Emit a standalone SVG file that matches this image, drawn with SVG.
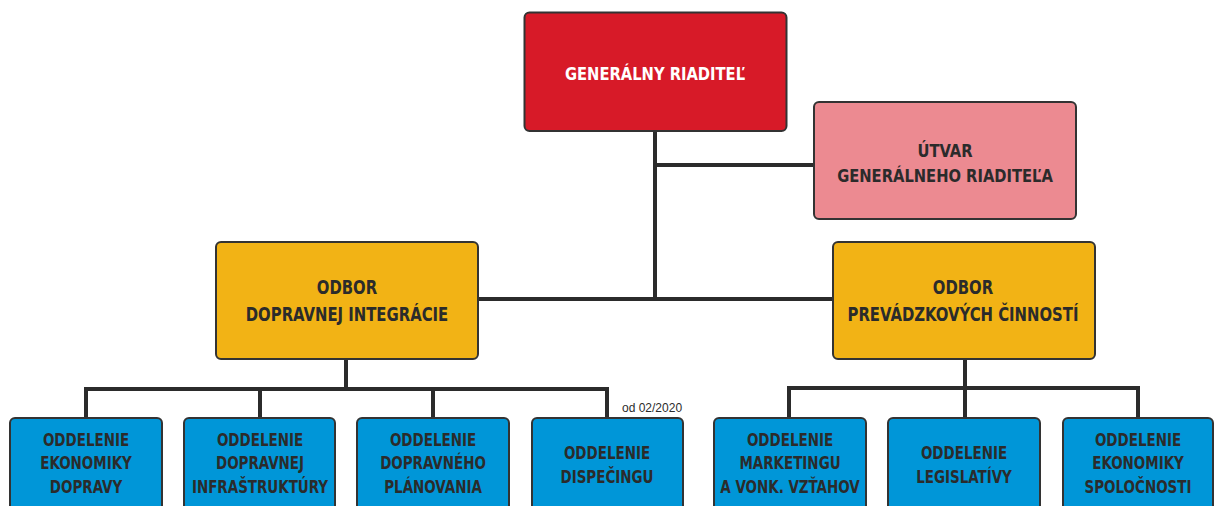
<svg xmlns="http://www.w3.org/2000/svg" width="1214" height="506" viewBox="0 0 1214 506">
<style>
.box{stroke:#333;stroke-width:2}
.red{fill:#d71a28}
.pink{fill:#ec8a91}
.yel{fill:#f2b315}
.blue{fill:#0096d8}
.t{font-family:"DejaVu Sans Condensed","DejaVu Sans",sans-serif;font-stretch:condensed;font-weight:bold;fill:#2b2b2b;text-anchor:middle}
.tb{font-size:17px}
.w{fill:#ffffff}
.ln{stroke:#2b2b2b;stroke-width:4;fill:none}
.note{font-family:"Liberation Sans",Arial,sans-serif;font-size:12px;fill:#2b2b2b}
</style>
<rect width="1214" height="506" fill="#ffffff"/>
<g id="connectors">
<path class="ln" d="M655 131 V300 M655 165 H814 M476 299 H834"/>
<path class="ln" d="M346 359 V389 M86 389 H607 M86 387 V418 M260 389 V418 M433 389 V418 M607 387 V418"/>
<path class="ln" d="M965 359 V388 M789 388 H1138 M789 386 V418 M965 388 V418 M1138 386 V418"/>
</g>
<g id="n_gr">
<rect class="box red" x="524.5" y="12.5" width="262" height="118.5" rx="5"/>
<g transform="translate(655 0) scale(0.91 1)"><text class="t w" x="0" y="80" font-size="18">GENERÁLNY RIADITEĽ</text></g>
</g>
<g id="n_utvar">
<rect class="box pink" x="814" y="102" width="262" height="117" rx="5"/>
<g transform="translate(945 0) scale(0.91 1)" font-size="18">
<text class="t" x="0" y="157">ÚTVAR</text>
<text class="t" x="0" y="182">GENERÁLNEHO RIADITEĽA</text>
</g>
</g>
<g id="n_odi">
<rect class="box yel" x="216" y="242" width="262" height="117" rx="5"/>
<g transform="translate(347 0) scale(0.87 1)" font-size="19">
<text class="t" x="0" y="294">ODBOR</text>
<text class="t" x="0" y="321">DOPRAVNEJ INTEGRÁCIE</text>
</g>
</g>
<g id="n_opc">
<rect class="box yel" x="833" y="242" width="262" height="117" rx="5"/>
<g transform="translate(963 0) scale(0.87 1)" font-size="19">
<text class="t" x="0" y="294">ODBOR</text>
<text class="t" x="0" y="321">PREVÁDZKOVÝCH ČINNOSTÍ</text>
</g>
</g>
<g id="n_oed">
<rect class="box blue" x="10" y="418" width="152" height="100" rx="5"/>
<g transform="translate(86 0) scale(0.88 1)">
<text class="t tb" x="0" y="446">ODDELENIE</text>
<text class="t tb" x="0" y="469">EKONOMIKY</text>
<text class="t tb" x="0" y="493">DOPRAVY</text>
</g>
</g>
<g id="n_odinf">
<rect class="box blue" x="184" y="418" width="151" height="100" rx="5"/>
<g transform="translate(260 0) scale(0.88 1)">
<text class="t tb" x="0" y="446">ODDELENIE</text>
<text class="t tb" x="0" y="469">DOPRAVNEJ</text>
<text class="t tb" x="0" y="493">INFRAŠTRUKTÚRY</text>
</g>
</g>
<g id="n_odpl">
<rect class="box blue" x="357" y="418" width="152" height="100" rx="5"/>
<g transform="translate(433 0) scale(0.88 1)">
<text class="t tb" x="0" y="446">ODDELENIE</text>
<text class="t tb" x="0" y="469">DOPRAVNÉHO</text>
<text class="t tb" x="0" y="493">PLÁNOVANIA</text>
</g>
</g>
<g id="n_odisp">
<rect class="box blue" x="532" y="418" width="151" height="100" rx="5"/>
<g transform="translate(607 0) scale(0.88 1)">
<text class="t tb" x="0" y="459">ODDELENIE</text>
<text class="t tb" x="0" y="483">DISPEČINGU</text>
</g>
<text class="note" x="622" y="412">od 02/2020</text>
</g>
<g id="n_omk">
<rect class="box blue" x="714" y="418" width="152" height="100" rx="5"/>
<g transform="translate(790 0) scale(0.88 1)">
<text class="t tb" x="0" y="446">ODDELENIE</text>
<text class="t tb" x="0" y="469">MARKETINGU</text>
<text class="t tb" x="0" y="493">A VONK. VZŤAHOV</text>
</g>
</g>
<g id="n_oleg">
<rect class="box blue" x="888" y="418" width="152" height="100" rx="5"/>
<g transform="translate(964 0) scale(0.88 1)">
<text class="t tb" x="0" y="459">ODDELENIE</text>
<text class="t tb" x="0" y="483">LEGISLATÍVY</text>
</g>
</g>
<g id="n_oes">
<rect class="box blue" x="1063" y="418" width="150" height="100" rx="5"/>
<g transform="translate(1138 0) scale(0.88 1)">
<text class="t tb" x="0" y="446">ODDELENIE</text>
<text class="t tb" x="0" y="469">EKONOMIKY</text>
<text class="t tb" x="0" y="493">SPOLOČNOSTI</text>
</g>
</g>
</svg>
